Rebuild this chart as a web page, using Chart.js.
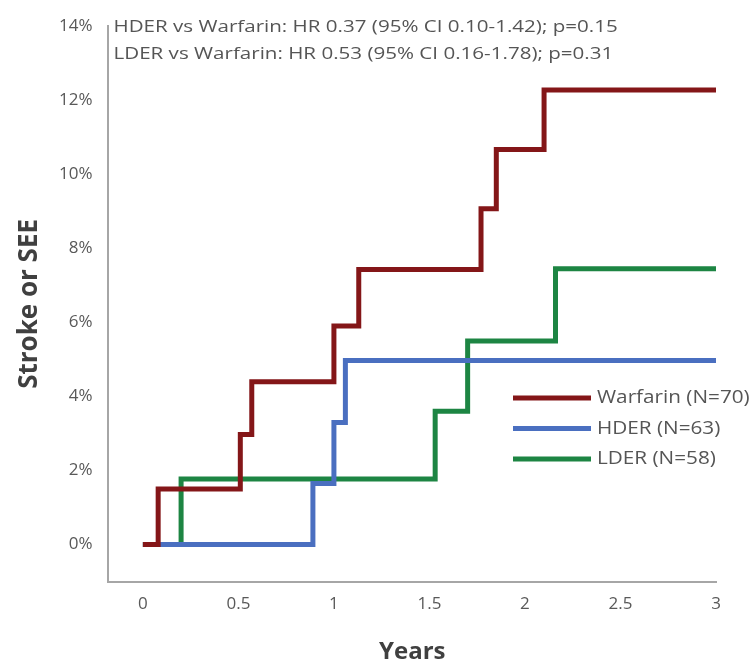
<!DOCTYPE html>
<html>
<head>
<meta charset="utf-8">
<script src="https://cdn.jsdelivr.net/npm/chart.js@4/dist/chart.umd.min.js"></script>
<style>
  html, body { margin: 0; padding: 0; background: #fff; }
  #wrap { width: 754px; height: 666px; }
</style>
</head>
<body>
<div id="wrap"><canvas id="myChart"></canvas></div>
<script>
// step points (years, cumulative %)
var warfarinX = [0, 0.08, 0.51, 0.57, 1.0, 1.13, 1.77, 1.85, 2.1, 3.0];
var warfarinY = [0, 1.5, 2.97, 4.4, 5.9, 7.43, 9.07, 10.67, 12.28, 12.28];
var hderX = [0, 0.89, 1.0, 1.06, 3.0];
var hderY = [0, 1.65, 3.3, 4.97, 4.97];
var lderX = [0, 0.2, 1.53, 1.70, 2.16, 3.0];
var lderY = [0, 1.77, 3.6, 5.5, 7.45, 7.45];

var seriesLabels = ['Warfarin (N=70)', 'HDER (N=63)', 'LDER (N=58)'];
var seriesColors = ['#841618', '#4a6fc0', '#1d8543'];
var xTicks = [0, 0.5, 1, 1.5, 2, 2.5, 3];
var yTicks = [0, 2, 4, 6, 8, 10, 12, 14];
var annotationLines = [
  'HDER vs Warfarin: HR 0.37 (95% CI 0.10-1.42); p=0.15',
  'LDER vs Warfarin: HR 0.53 (95% CI 0.16-1.78); p=0.31'
];

function toPoints(xs, ys) {
  return xs.map(function (x, i) { return { x: x, y: ys[i] }; });
}

var data = {
  datasets: [
    { label: seriesLabels[0], data: toPoints(warfarinX, warfarinY) },
    { label: seriesLabels[1], data: toPoints(hderX, hderY) },
    { label: seriesLabels[2], data: toPoints(lderX, lderY) }
  ].map(function (d, i) {
    d.borderColor = seriesColors[i];
    d.backgroundColor = seriesColors[i];
    d.borderWidth = 5;
    d.pointRadius = 0;
    d.stepped = 'before';
    d.fill = false;
    return d;
  })
};

/* draw text stretched a little wider, like the original figure */
function wideText(ctx, text, x, y, sx) {
  ctx.save();
  ctx.translate(x, y);
  ctx.scale(sx, 1);
  ctx.fillText(text, 0, 0);
  ctx.restore();
}

/* annotation text + legend drawn inside the plot */
var extras = {
  id: 'extras',
  afterDraw: function (chart) {
    var ctx = chart.ctx;
    var area = chart.chartArea;
    ctx.save();
    ctx.fillStyle = '#555555';
    ctx.textBaseline = 'middle';
    ctx.textAlign = 'left';
    ctx.font = '17px "Open Sans"';
    annotationLines.forEach(function (t, i) {
      wideText(ctx, t, area.left + 5, 27 + i * 27, 1.21);
    });
    ctx.font = '19px "Open Sans"';
    chart.data.datasets.forEach(function (ds, i) {
      var y = 398 + i * 30.5;
      ctx.strokeStyle = ds.borderColor;
      ctx.lineWidth = 5;
      ctx.beginPath();
      ctx.moveTo(513, y);
      ctx.lineTo(591, y);
      ctx.stroke();
      wideText(ctx, ds.label, 597, y, 1.09);
    });
    ctx.restore();
  }
};

var tickFont = { size: 17, family: 'Open Sans' };

const config = {
  type: 'line',
  data: data,
  options: {
    responsive: true,
    maintainAspectRatio: false,
    animation: false,
    layout: {
      padding: { top: 19, right: 38, bottom: 2, left: 17 }
    },
    scales: {
      x: {
        type: 'linear',
        min: -0.18,
        max: 3,
        afterBuildTicks: function (axis) {
          axis.ticks = xTicks.map(function (v) { return { value: v }; });
        },
        grid: { display: false, drawTicks: false },
        border: { display: true, color: '#a6a6a6', width: 2 },
        ticks: {
          color: '#595959',
          font: tickFont,
          padding: 12,
          maxRotation: 0,
          callback: function (v) { return String(v); }
        },
        title: {
          display: true,
          text: 'Years',
          color: '#404040',
          font: { size: 24, family: 'Open Sans', weight: 'bold', lineHeight: 1 },
          padding: { top: 14, bottom: 0 }
        }
      },
      y: {
        min: -1,
        max: 14,
        afterBuildTicks: function (axis) {
          axis.ticks = yTicks.map(function (v) { return { value: v }; });
        },
        grid: { display: false, drawTicks: false },
        border: { display: true, color: '#a6a6a6', width: 2 },
        ticks: {
          color: '#595959',
          font: tickFont,
          padding: 16,
          callback: function (v) { return v + '%'; }
        },
        title: {
          display: true,
          text: 'Stroke or SEE',
          color: '#404040',
          font: { size: 26, family: 'Open Sans', weight: 'bold', lineHeight: 1 },
          padding: { top: 0, bottom: 0 }
        }
      }
    },
    plugins: {
      legend: { display: false },
      tooltip: { enabled: false }
    }
  },
  plugins: [extras]
};

var myChart = new Chart(document.getElementById('myChart'), config);
</script>
</body>
</html>
